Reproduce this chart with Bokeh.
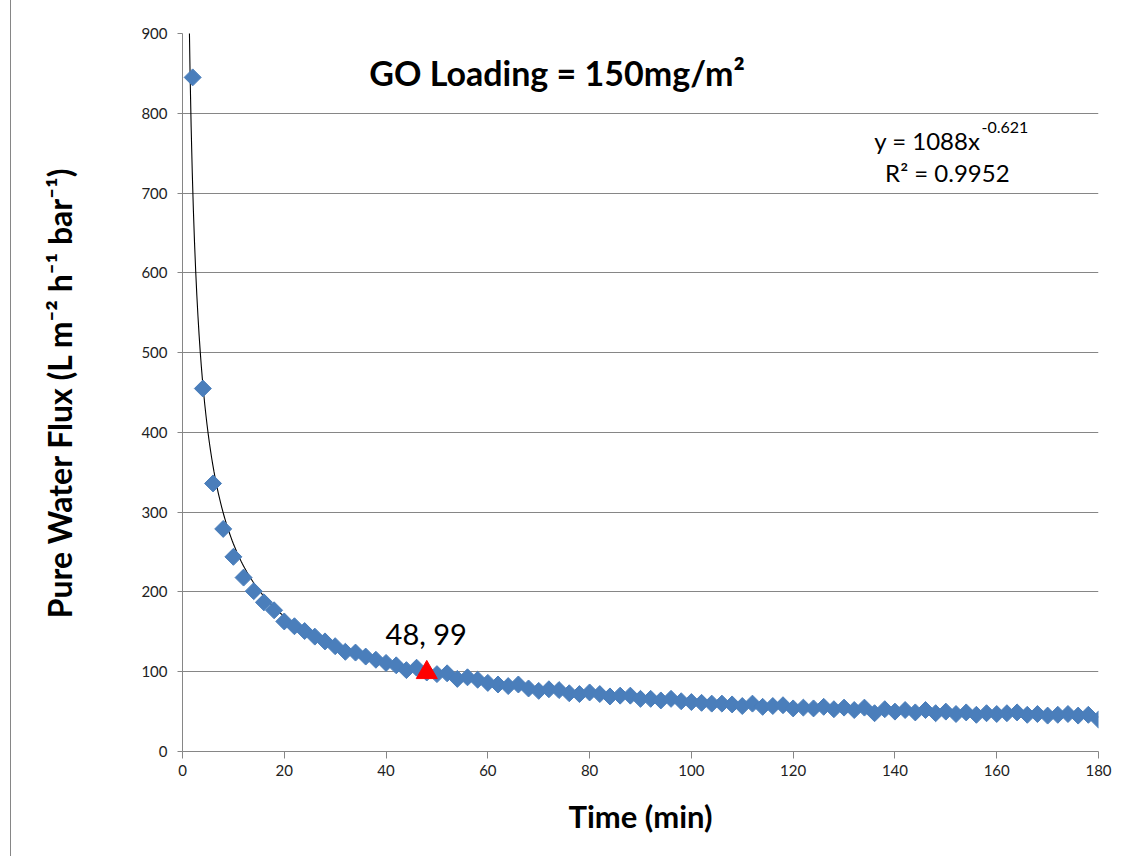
import numpy as np
from bokeh.plotting import figure
from bokeh.models import Range1d, FixedTicker, Label
from bokeh.embed import file_html
from bokeh.resources import INLINE

# ---- data ----
time_min = list(range(2, 181, 2))
flux = [845, 455, 336, 279, 244, 218, 201, 187, 177, 163,
        157, 151, 144, 138, 132, 125, 124, 119, 115, 111,
        108, 102, 105, 99, 97, 98, 91, 93, 90, 86,
        84, 82, 84, 79, 76, 78, 77, 73, 72, 74,
        72, 69, 70, 70, 66, 66, 64, 66, 63, 62,
        61, 60, 60, 59, 57, 60, 56, 57, 58, 54,
        55, 54, 56, 53, 55, 52, 55, 48, 53, 50,
        52, 49, 52, 48, 50, 47, 49, 46, 48, 47,
        48, 49, 46, 47, 45, 46, 47, 45, 46, 40]
highlight_x = [48]
highlight_y = [99]
highlight_label = "48, 99"

# power trendline shown on the chart: y = 1088 x^-0.621
fit_a = 1088
fit_b = -0.621

x_ticks = list(range(0, 181, 20))
y_ticks = list(range(0, 901, 100))

FONT = "Lato"
GRAY = "#868686"

p = figure(width=1115, height=856,
           x_range=Range1d(0, 180), y_range=Range1d(0, 900),
           output_backend="svg", toolbar_location=None,
           min_border_left=171, min_border_right=28,
           min_border_top=33, min_border_bottom=105)
p.styles = {"border-left": "1px solid #868686", "margin-left": "10px"}
p.outline_line_color = None
p.background_fill_color = "white"
p.border_fill_color = "white"

# grid
p.xgrid.visible = False
p.ygrid.ticker = FixedTicker(ticks=y_ticks[1:-1])
p.ygrid.grid_line_color = GRAY
p.ygrid.grid_line_width = 1

# axes
for ax in (p.xaxis[0], p.yaxis[0]):
    ax.axis_line_color = GRAY
    ax.major_tick_line_color = GRAY
    ax.minor_tick_line_color = None
    ax.major_tick_in = 0
    ax.major_label_text_font = FONT
    ax.major_label_text_font_size = "15px"
    ax.major_label_text_color = "#222222"
    ax.axis_label_text_font = FONT
    ax.axis_label_text_font_style = "bold"
    ax.axis_label_text_color = "black"

p.xaxis.axis_label_text_font_size = "31px"
p.yaxis.axis_label_text_font_size = "32px"
p.xaxis.ticker = FixedTicker(ticks=x_ticks)
p.yaxis.ticker = FixedTicker(ticks=y_ticks)
p.xaxis.major_tick_out = 7
p.yaxis.major_tick_out = 5
p.xaxis.major_label_standoff = 6
p.yaxis.major_label_standoff = 10
p.xaxis.axis_label = "Time (min)"
p.yaxis.axis_label = "Pure Water Flux (L m\u207b\u00b2 h\u207b\u00b9 bar\u207b\u00b9)"
p.xaxis.axis_label_standoff = 18
p.yaxis.axis_label_standoff = 59

# trendline
xs = np.linspace(1.25, 180, 800)
ys = fit_a * xs ** fit_b
p.line(xs, ys, line_color="black", line_width=1.1)

# data markers (diamonds = rotated squares)
p.scatter(time_min, flux, marker="square", angle=np.pi / 4, size=12,
          fill_color="#4A7EBB", line_color="#4A7EBB")

# highlighted point
p.scatter(highlight_x, highlight_y, marker="triangle", size=21,
          fill_color="#FF0000", line_color="#FF0000")
p.add_layout(Label(x=47.9, y=148, text=highlight_label, text_font=FONT,
                   text_font_size="29px", text_align="center",
                   text_baseline="middle", text_color="black"))

# title inside plot
p.add_layout(Label(x=73.6, y=851, text="GO Loading = 150mg/m\u00b2",
                   text_font=FONT, text_font_style="bold",
                   text_font_size="34px", text_align="center",
                   text_baseline="middle", text_color="black"))

# equation
p.add_layout(Label(x=156.8, y=766, text="y = 1088x",
                   text_font=FONT, text_font_size="24px",
                   text_align="right", text_baseline="middle",
                   text_color="black"))
p.add_layout(Label(x=157.0, y=782, text="-0.621",
                   text_font=FONT, text_font_size="16px",
                   text_align="left", text_baseline="middle",
                   text_color="black"))
p.add_layout(Label(x=150.3, y=725.5, text="R\u00b2 = 0.9952",
                   text_font=FONT, text_font_size="24px",
                   text_align="center", text_baseline="middle",
                   text_color="black"))

open("out.html", "w").write(file_html(p, INLINE))
